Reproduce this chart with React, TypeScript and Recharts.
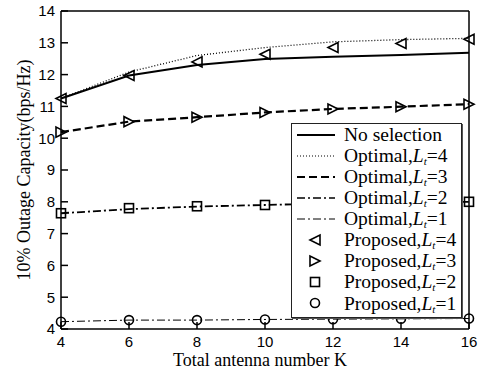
import { Legend, Line, LineChart, ReferenceLine, XAxis, YAxis } from "recharts";

const antennas = [4, 6, 8, 10, 12, 14, 16];
const noSelection = [11.25, 11.97, 12.3, 12.49, 12.56, 12.62, 12.69];
const optimal4 = [11.25, 12.08, 12.6, 12.85, 13.03, 13.1, 13.14];
const optimal3 = [10.19, 10.52, 10.66, 10.81, 10.92, 10.99, 11.07];
const optimal2 = [7.64, 7.77, 7.85, 7.9, 7.95, 7.98, 8.0];
const optimal1 = [4.23, 4.28, 4.28, 4.3, 4.31, 4.32, 4.33];
const proposed4 = [11.25, 11.97, 12.4, 12.64, 12.85, 12.98, 13.11];
const proposed3 = [10.19, 10.52, 10.66, 10.81, 10.92, 10.99, 11.07];
const proposed2 = [7.64, 7.8, 7.86, 7.9, 7.95, 7.98, 8.0];
const proposed1 = [4.23, 4.28, 4.28, 4.3, 4.31, 4.32, 4.33];

const xTicks = [4, 6, 8, 10, 12, 14, 16];
const yTicks = [4, 5, 6, 7, 8, 9, 10, 11, 12, 13, 14];

const data = antennas.map((k, i) => ({
  k,
  noSel: noSelection[i],
  opt4: optimal4[i],
  opt3: optimal3[i],
  opt2: optimal2[i],
  opt1: optimal1[i],
  pro4: proposed4[i],
  pro3: proposed3[i],
  pro2: proposed2[i],
  pro1: proposed1[i]
}));

type Marker = "left" | "right" | "square" | "circle";

function markerShape(kind: Marker, cx: number, cy: number, key?: string | number) {
  const s = 5;
  const common = { key, fill: "none", stroke: "#000", strokeWidth: 1.6 };
  if (kind === "left") {
    return <path {...common} d={`M${cx - s},${cy} L${cx + s},${cy - s} L${cx + s},${cy + s} Z`} />;
  }
  if (kind === "right") {
    return <path {...common} d={`M${cx + s},${cy} L${cx - s},${cy - s} L${cx - s},${cy + s} Z`} />;
  }
  if (kind === "square") {
    return <rect {...common} x={cx - 4.5} y={cy - 4.5} width={9} height={9} />;
  }
  return <circle {...common} cx={cx} cy={cy} r={4.5} />;
}

const markerDot = (kind: Marker) => (props: any) =>
  markerShape(kind, props.cx, props.cy, props.index);

const lineRows = [
  { name: "No selection", dash: undefined, width: 2 },
  { name: "Optimal", lt: 4, dash: "1 2", width: 1.2 },
  { name: "Optimal", lt: 3, dash: "8 4", width: 2.2 },
  { name: "Optimal", lt: 2, dash: "8 3 2 3", width: 1.6 },
  { name: "Optimal", lt: 1, dash: "8 3 2 3", width: 1 }
];

const markerRows: { name: string; lt: number; kind: Marker }[] = [
  { name: "Proposed", lt: 4, kind: "left" },
  { name: "Proposed", lt: 3, kind: "right" },
  { name: "Proposed", lt: 2, kind: "square" },
  { name: "Proposed", lt: 1, kind: "circle" }
];

function LegendLabel({ name, lt }: { name: string; lt?: number }) {
  if (lt === undefined) return <span>{name}</span>;
  return (
    <span style={{ whiteSpace: "nowrap" }}>
      {name},<i>L</i>
      <sub style={{ fontSize: 11, lineHeight: 0, verticalAlign: "-3px" }}>
        <i>t</i>
      </sub>
      ={lt}
    </span>
  );
}

function ChartLegend() {
  const row = { display: "flex", alignItems: "center", height: 21.1, overflow: "visible" } as const;
  return (
    <div
      style={{
        width: 171,
        height: 195,
        background: "#fff",
        border: "1.5px solid #222",
        boxShadow: "1px 1px 0 #555",
        fontFamily: "'Liberation Serif', serif",
        fontSize: 19.5,
        lineHeight: 1,
        color: "#000",
        paddingTop: 0,
        boxSizing: "border-box"
      }}
    >
      {lineRows.map((r, i) => (
        <div key={"l" + i} style={row}>
          <svg width={52} height={20} style={{ flex: "none" }}>
            <line x1={5} x2={43} y1={10} y2={10} stroke="#000" strokeWidth={r.width} strokeDasharray={r.dash} />
          </svg>
          <LegendLabel name={r.name} lt={r.lt} />
        </div>
      ))}
      {markerRows.map((r, i) => (
        <div key={"m" + i} style={row}>
          <svg width={52} height={20} style={{ flex: "none" }}>
            {markerShape(r.kind, 23, 10)}
          </svg>
          <LegendLabel name={r.name} lt={r.lt} />
        </div>
      ))}
    </div>
  );
}

const tickFont = { fontFamily: "'Liberation Sans', Arial, sans-serif", fontSize: 15, fill: "#000" };

function XTick(props: any) {
  const { x, y, payload } = props;
  const axisY = y - 7;
  return (
    <g>
      <line x1={x} x2={x} y1={axisY} y2={axisY - 7} stroke="#000" strokeWidth={1.5} />
      <text x={x} y={y} dy="0.71em" textAnchor="middle" {...tickFont}>
        {payload.value}
      </text>
    </g>
  );
}

function YTick(props: any) {
  const { x, y, payload } = props;
  const axisX = x + 6;
  return (
    <g>
      <line x1={axisX} x2={axisX + 7} y1={y} y2={y} stroke="#000" strokeWidth={1.5} />
      <text x={x} y={y} dy="0.36em" textAnchor="end" {...tickFont}>
        {payload.value}
      </text>
    </g>
  );
}

const titleFont = { fontFamily: "'Liberation Serif', serif", fontSize: 18, fill: "#000" };

function YTitle(props: any) {
  const { x, y, height } = props.viewBox;
  const cx = x + 24;
  const cy = y + height / 2;
  return (
    <text x={cx} y={cy} textAnchor="middle" dominantBaseline="central" transform={`rotate(-90 ${cx} ${cy})`} {...titleFont}>
      10% Outage Capacity(bps/Hz)
    </text>
  );
}

function XTitle(props: any) {
  const { x, y, width } = props.viewBox;
  return (
    <text x={x + width / 2 - 5} y={y + 31} textAnchor="middle" dominantBaseline="central" {...titleFont}>
      Total antenna number K
    </text>
  );
}

export default function App() {
  return (
    <div style={{ position: "fixed", left: 0, top: 0, width: 485, height: 370, background: "#fff" }}>
      <LineChart width={485} height={370} data={data} margin={{ top: 11, right: 16, bottom: 0, left: 0 }}>
        <XAxis
          dataKey="k"
          type="number"
          domain={[4, 16]}
          ticks={xTicks}
          height={41}
          tickSize={0}
          tickMargin={7}
          tickLine={false}
          tick={<XTick />}
          axisLine={{ stroke: "#000", strokeWidth: 1.5 }}
          label={<XTitle />}
        />
        <YAxis
          type="number"
          domain={[4, 14]}
          ticks={yTicks}
          width={61}
          tickSize={0}
          tickMargin={6}
          tickLine={false}
          tick={<YTick />}
          axisLine={{ stroke: "#000", strokeWidth: 1.5 }}
          label={<YTitle />}
          interval={0}
        />
        <ReferenceLine y={14} stroke="#000" strokeWidth={1.5} />
        <ReferenceLine x={16} stroke="#000" strokeWidth={1.5} />
        <Line dataKey="opt1" stroke="#000" strokeWidth={1} strokeDasharray="8 3 2 3" dot={false} isAnimationActive={false} />
        <Line dataKey="opt2" stroke="#000" strokeWidth={1.8} strokeDasharray="8 3 2 3" dot={false} isAnimationActive={false} />
        <Line dataKey="opt3" stroke="#000" strokeWidth={2.2} strokeDasharray="8 4" dot={false} isAnimationActive={false} />
        <Line dataKey="opt4" stroke="#000" strokeWidth={1.3} strokeDasharray="1 2" dot={false} isAnimationActive={false} />
        <Line dataKey="noSel" stroke="#000" strokeWidth={2} dot={false} isAnimationActive={false} />
        <Line dataKey="pro4" stroke="none" dot={markerDot("left")} isAnimationActive={false} />
        <Line dataKey="pro3" stroke="none" dot={markerDot("right")} isAnimationActive={false} />
        <Line dataKey="pro2" stroke="none" dot={markerDot("square")} isAnimationActive={false} />
        <Line dataKey="pro1" stroke="none" dot={markerDot("circle")} isAnimationActive={false} />
        <Legend
          layout="vertical"
          align="center"
          verticalAlign="middle"
          content={<ChartLegend />}
          wrapperStyle={{ left: 291, top: 123, width: 171, height: 195 }}
        />
      </LineChart>
    </div>
  );
}
